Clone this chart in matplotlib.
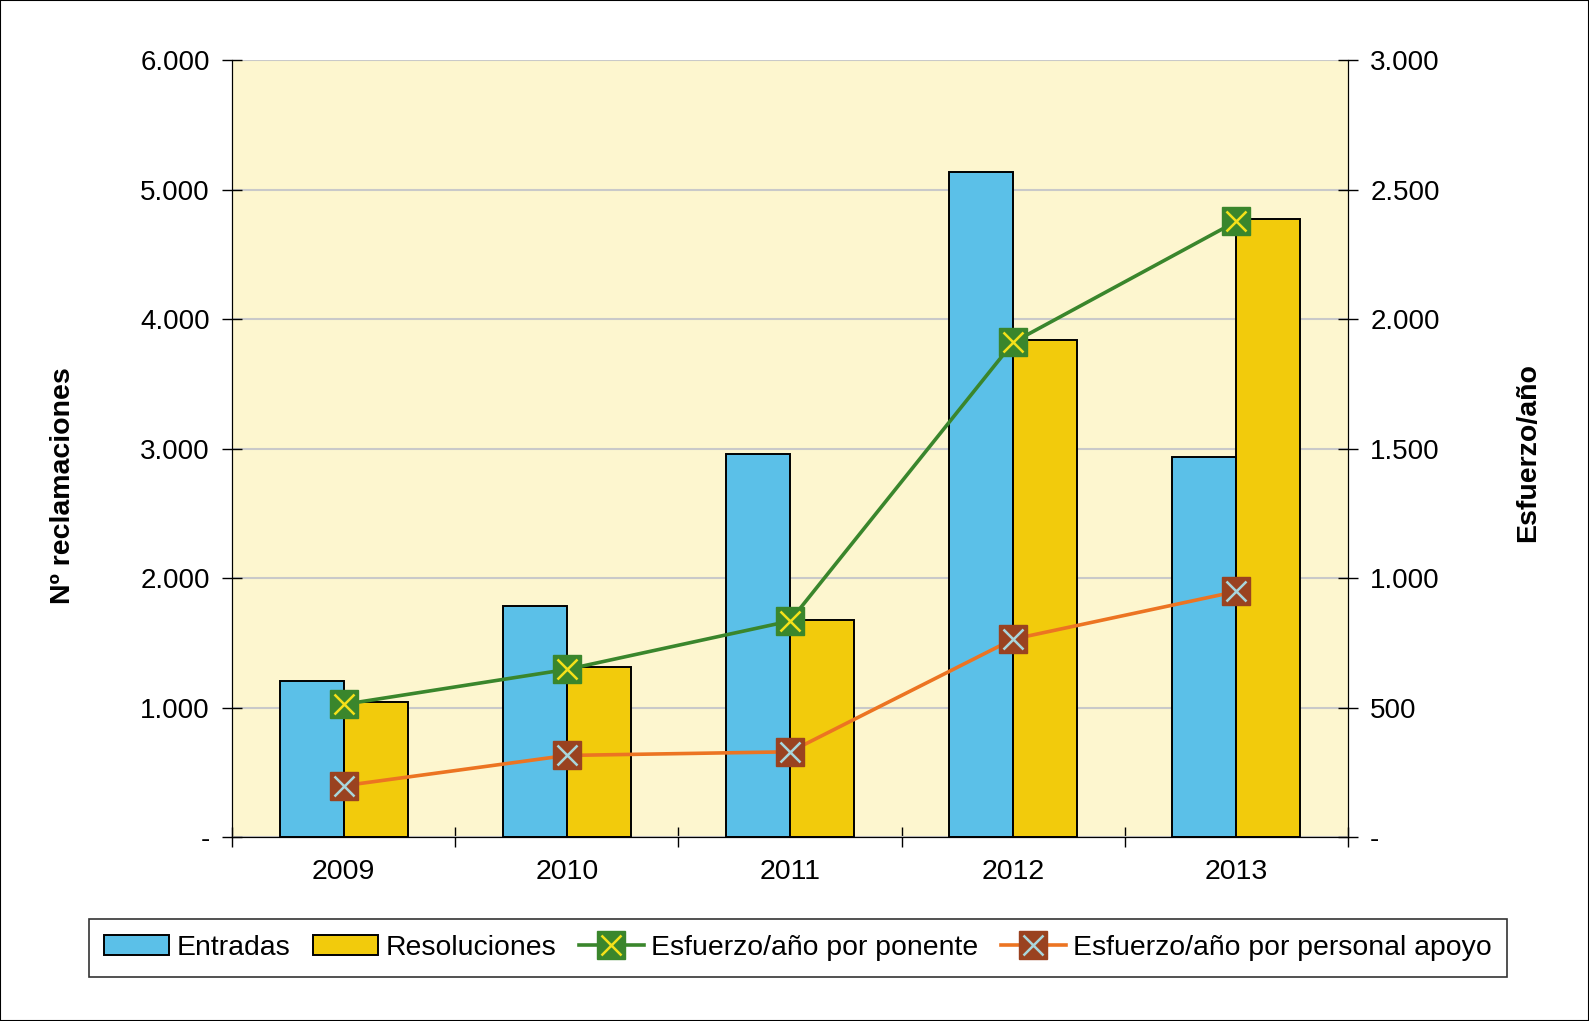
import matplotlib.pyplot as plt
from matplotlib.ticker import FuncFormatter
from matplotlib.patches import Patch, Rectangle
from matplotlib.lines import Line2D

plt.rcParams['font.family'] = ['Liberation Sans', 'DejaVu Sans']

years = ["2009", "2010", "2011", "2012", "2013"]
entradas = [1207, 1786, 2959, 5135, 2937]
resoluciones = [1045, 1315, 1676, 3838, 4772]
esfuerzo_ponente = [512, 647, 834, 1910, 2377]
esfuerzo_apoyo = [198, 315, 329, 764, 948]

c_blue = "#5BC0E8"
c_yellow = "#F2CB0C"
c_bg = "#FDF6CF"
c_green = "#3A862C"
c_orange = "#EC7422"
c_brown = "#9A4220"
c_xblue = "#A9D6DC"
c_xyellow = "#F5E11A"


def miles(v, pos):
    if v == 0:
        return "-"
    return f"{v:,.0f}".replace(",", ".")


fig = plt.figure(figsize=(15.89, 10.21), dpi=100)
fig.patches.append(Rectangle((0, 0), 1, 1, transform=fig.transFigure,
                             fill=False, edgecolor="black", lw=1.5))
ax = fig.add_axes([0.146, 0.1802, 0.7023, 0.761])
ax.set_facecolor(c_bg)

x = list(range(len(years)))
w = 0.287
ax.bar([i - w / 2 for i in x], entradas, w, color=c_blue, edgecolor="black", lw=1.4, zorder=3)
ax.bar([i + w / 2 for i in x], resoluciones, w, color=c_yellow, edgecolor="black", lw=1.4, zorder=3)

ax.set_xlim(-0.5, 4.5)
ax.set_ylim(0, 6000)
ax.set_yticks(range(0, 6001, 1000))
ax.yaxis.set_major_formatter(FuncFormatter(miles))
ax.yaxis.grid(True, color="#C9C9C9", lw=1.5, zorder=0)
ax.set_axisbelow(True)
ax.set_xticks(x)
ax.set_xticklabels(years)
ax.set_xticks([i - 0.5 for i in range(6)], minor=True)
ax.tick_params(axis="x", which="major", length=0, pad=16, labelsize=20.5)
ax.tick_params(axis="x", which="minor", length=14, direction="inout", width=1)
ax.tick_params(axis="y", length=14, direction="inout", width=1, labelsize=20, pad=9)
ax.spines["top"].set_visible(False)

ax2 = ax.twinx()
ax2.set_ylim(0, 3000)
ax2.set_yticks(range(0, 3001, 500))
ax2.yaxis.set_major_formatter(FuncFormatter(miles))
ax2.tick_params(axis="y", length=14, direction="inout", width=1, labelsize=20, pad=9)
ax2.spines["top"].set_visible(False)

ax2.plot(x, esfuerzo_ponente, color=c_green, lw=2.6, marker="s", ms=19.5,
         markerfacecolor=c_green, markeredgecolor=c_green, zorder=4)
ax2.plot(x, esfuerzo_ponente, ls="none", marker="x", ms=14, mew=1.8,
         color=c_xyellow, zorder=5)
ax2.plot(x, esfuerzo_apoyo, color=c_orange, lw=2.6, marker="s", ms=19.5,
         markerfacecolor=c_brown, markeredgecolor=c_brown, zorder=4)
ax2.plot(x, esfuerzo_apoyo, ls="none", marker="x", ms=14, mew=1.8,
         color=c_xblue, zorder=5)

fig.text(63 / 1589, 1 - 486 / 1021, "Nº reclamaciones", rotation=90, fontsize=20.5,
         fontweight="bold", ha="center", va="center")
fig.text(1528 / 1589, 1 - 453 / 1021, "Esfuerzo/año", rotation=90, fontsize=20.5,
         fontweight="bold", ha="center", va="center")

h1 = Patch(facecolor=c_blue, edgecolor="black", lw=1.4)
h2 = Patch(facecolor=c_yellow, edgecolor="black", lw=1.4)
h3 = (Line2D([], [], color=c_green, lw=2.6, marker="s", ms=19.5,
             markerfacecolor=c_green, markeredgecolor=c_green),
      Line2D([], [], ls="none", marker="x", ms=14, mew=1.8, color=c_xyellow))
h4 = (Line2D([], [], color=c_orange, lw=2.6, marker="s", ms=19.5,
             markerfacecolor=c_brown, markeredgecolor=c_brown),
      Line2D([], [], ls="none", marker="x", ms=14, mew=1.8, color=c_xblue))
leg = fig.legend([h1, h2, h3, h4],
                 ["Entradas", "Resoluciones", "Esfuerzo/año por ponente",
                  "Esfuerzo/año por personal apoyo"],
                 loc="center", bbox_to_anchor=(798 / 1589, 1 - 948 / 1021),
                 ncol=4, fontsize=20.4, frameon=True, fancybox=False,
                 edgecolor="black", handlelength=2.3, handletextpad=0.25,
                 columnspacing=0.8, borderpad=0.55)
leg.get_frame().set_linewidth(1.2)

fig.savefig("out.png", dpi=100)
